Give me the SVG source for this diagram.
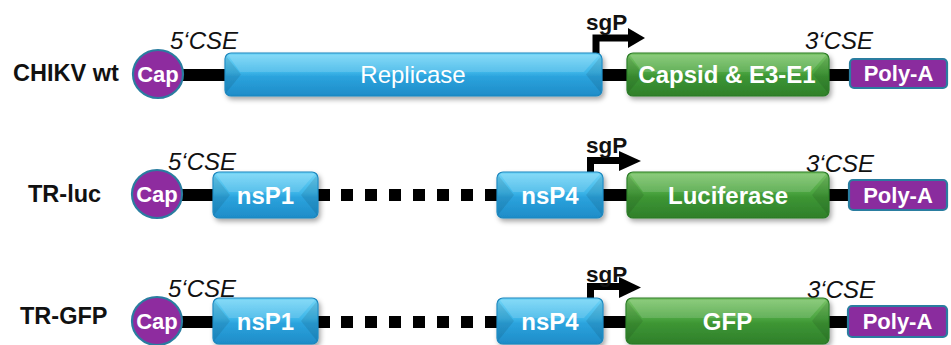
<svg xmlns="http://www.w3.org/2000/svg" width="951" height="345" viewBox="0 0 951 345">
<defs>
<linearGradient id="gBlue" x1="0" y1="0" x2="0" y2="1">
<stop offset="0" stop-color="#74d6f7"/><stop offset="0.45" stop-color="#3cb5e8"/><stop offset="0.55" stop-color="#2ba3dd"/><stop offset="1" stop-color="#1e8cc8"/>
</linearGradient>
<linearGradient id="gGreen" x1="0" y1="0" x2="0" y2="1">
<stop offset="0" stop-color="#7cc56a"/><stop offset="0.45" stop-color="#4aa43f"/><stop offset="0.55" stop-color="#3d9634"/><stop offset="1" stop-color="#2f7f2a"/>
</linearGradient>
<filter id="sh" x="-10%" y="-20%" width="120%" height="160%">
<feDropShadow dx="2" dy="3" stdDeviation="2.5" flood-color="#000" flood-opacity="0.35"/>
</filter>
</defs>
<style>
.lbl{font-family:"Liberation Sans",Arial,sans-serif;font-weight:bold;font-size:23.5px;fill:#111}
.cse{font-family:"Liberation Sans",Arial,sans-serif;font-style:italic;font-size:24px;fill:#111}
.sgp{font-family:"Liberation Sans",Arial,sans-serif;font-weight:bold;font-size:22.5px;fill:#111}
.bt{font-family:"Liberation Sans",Arial,sans-serif;font-weight:bold;font-size:24px;fill:#fff;text-anchor:middle}
.bn{font-family:"Liberation Sans",Arial,sans-serif;font-size:24px;fill:#fff;text-anchor:middle}
.pt{font-family:"Liberation Sans",Arial,sans-serif;font-weight:bold;font-size:22px;fill:#fff;text-anchor:middle}
.blue{fill:url(#gBlue);stroke:#1b86bd;stroke-width:1.2;filter:url(#sh)}
.green{fill:url(#gGreen);stroke:#2a7a26;stroke-width:1.2;filter:url(#sh)}
.cap{fill:#8e2c9f;stroke:#2a7da0;stroke-width:2.2}
.poly{fill:#8a2c9e;stroke:#2a7da0;stroke-width:2.2}
.fd{fill:#000;opacity:0.09}
.fl{fill:#fff;opacity:0.14}
.bb{fill:#000}
</style>

<g id="connectors">
<!-- row 1 -->
<rect class="bb" x="180" y="69" width="50" height="12"/>
<rect class="bb" x="598" y="69" width="34" height="12"/>
<rect class="bb" x="825" y="69" width="28" height="12"/>
<path d="M596,75 V38 H630" fill="none" stroke="#000" stroke-width="7"/>
<polygon points="628,28 645,38 628,48" fill="#000"/>
<!-- row 2 -->
<rect class="bb" x="180" y="189" width="38" height="12"/>
<rect class="bb" x="314" y="189" width="16" height="12"/>
<rect class="bb" x="341" y="189" width="12" height="12"/>
<rect class="bb" x="365" y="189" width="12" height="12"/>
<rect class="bb" x="389" y="189" width="12" height="12"/>
<rect class="bb" x="413" y="189" width="12" height="12"/>
<rect class="bb" x="437" y="189" width="12" height="12"/>
<rect class="bb" x="461" y="189" width="12" height="12"/>
<rect class="bb" x="485" y="189" width="16" height="12"/>
<rect class="bb" x="600" y="189" width="32" height="12"/>
<rect class="bb" x="825" y="189" width="28" height="12"/>
<path d="M590.5,195 V160.5 H622" fill="none" stroke="#000" stroke-width="7"/>
<polygon points="619,151 641,161 619,171" fill="#000"/>
<!-- row 3 -->
<rect class="bb" x="180" y="316" width="38" height="12"/>
<rect class="bb" x="314" y="316" width="16" height="12"/>
<rect class="bb" x="341" y="316" width="12" height="12"/>
<rect class="bb" x="365" y="316" width="12" height="12"/>
<rect class="bb" x="389" y="316" width="12" height="12"/>
<rect class="bb" x="413" y="316" width="12" height="12"/>
<rect class="bb" x="437" y="316" width="12" height="12"/>
<rect class="bb" x="461" y="316" width="12" height="12"/>
<rect class="bb" x="485" y="316" width="16" height="12"/>
<rect class="bb" x="600" y="316" width="32" height="12"/>
<rect class="bb" x="825" y="316" width="28" height="12"/>
<path d="M590.5,322 V286.5 H622" fill="none" stroke="#000" stroke-width="7"/>
<polygon points="619,277 641,287.5 619,298" fill="#000"/>
</g>

<!-- Row 1 -->
<g id="label-chikv"><text class="lbl" x="13" y="81">CHIKV wt</text></g>
<g id="cse5-1"><text class="cse" x="170" y="49">5‘CSE</text></g>
<g id="cse3-1"><text class="cse" x="805" y="49">3‘CSE</text></g>
<g id="sgp-1"><text class="sgp" x="586" y="30">sgP</text></g>
<g id="cap-1"><ellipse class="cap" cx="158" cy="74" rx="25" ry="24"/><text class="pt" x="158" y="82">Cap</text></g>
<g id="replicase">
<rect class="blue" x="225" y="53" width="377" height="43" rx="6"/>
<polygon class="fl" points="228,55 599,55 584,72 240,72"/>
<polygon class="fd" points="226,56 241,74.5 226,93"/>
<polygon class="fd" points="601,56 586,74.5 601,93"/>
<text class="bn" x="413" y="83">Replicase</text>
</g>
<g id="capsid">
<rect class="green" x="627" y="53" width="202" height="43" rx="6"/>
<polygon class="fl" points="630,55 826,55 811,72 642,72"/>
<polygon class="fd" points="628,56 643,74.5 628,93"/>
<polygon class="fd" points="828,56 813,74.5 828,93"/>
<text class="bt" x="727" y="83">Capsid &amp; E3-E1</text>
</g>
<g id="polya-1"><rect class="poly" x="850" y="59" width="97" height="29" rx="4"/><text class="pt" x="898.5" y="81">Poly-A</text></g>

<!-- Row 2 -->
<g id="label-trluc"><text class="lbl" x="28" y="202">TR-luc</text></g>
<g id="cse5-2"><text class="cse" x="168" y="170">5‘CSE</text></g>
<g id="cse3-2"><text class="cse" x="806" y="172">3‘CSE</text></g>
<g id="sgp-2"><text class="sgp" x="586" y="153">sgP</text></g>
<g id="cap-2"><ellipse class="cap" cx="157" cy="194" rx="25" ry="24"/><text class="pt" x="157" y="202">Cap</text></g>
<g id="nsp1-2">
<rect class="blue" x="213" y="172" width="105" height="46" rx="6"/>
<polygon class="fl" points="216,174 315,174 299,192 229,192"/>
<polygon class="fd" points="214,175 230,195 214,215"/>
<polygon class="fd" points="317,175 301,195 317,215"/>
<text class="bt" x="265.5" y="204">nsP1</text>
</g>
<g id="nsp4-2">
<rect class="blue" x="497" y="172" width="106" height="46" rx="6"/>
<polygon class="fl" points="500,174 600,174 584,192 513,192"/>
<polygon class="fd" points="498,175 514,195 498,215"/>
<polygon class="fd" points="602,175 586,195 602,215"/>
<text class="bt" x="550" y="204">nsP4</text>
</g>
<g id="luciferase">
<rect class="green" x="627" y="172" width="202" height="46" rx="6"/>
<polygon class="fl" points="630,174 826,174 810,192 643,192"/>
<polygon class="fd" points="628,175 644,195 628,215"/>
<polygon class="fd" points="828,175 812,195 828,215"/>
<text class="bt" x="728" y="204">Luciferase</text>
</g>
<g id="polya-2"><rect class="poly" x="849" y="180" width="98" height="30" rx="4"/><text class="pt" x="898" y="203">Poly-A</text></g>

<!-- Row 3 -->
<g id="label-trgfp"><text class="lbl" x="20" y="324">TR-GFP</text></g>
<g id="cse5-3"><text class="cse" x="168" y="297">5‘CSE</text></g>
<g id="cse3-3"><text class="cse" x="807" y="298">3‘CSE</text></g>
<g id="sgp-3"><text class="sgp" x="586" y="282">sgP</text></g>
<g id="cap-3"><ellipse class="cap" cx="157" cy="321" rx="25" ry="24"/><text class="pt" x="157" y="329">Cap</text></g>
<g id="nsp1-3">
<rect class="blue" x="213" y="298" width="105" height="46" rx="6"/>
<polygon class="fl" points="216,300 315,300 299,318 229,318"/>
<polygon class="fd" points="214,301 230,321 214,341"/>
<polygon class="fd" points="317,301 301,321 317,341"/>
<text class="bt" x="265.5" y="330">nsP1</text>
</g>
<g id="nsp4-3">
<rect class="blue" x="497" y="298" width="106" height="46" rx="6"/>
<polygon class="fl" points="500,300 600,300 584,318 513,318"/>
<polygon class="fd" points="498,301 514,321 498,341"/>
<polygon class="fd" points="602,301 586,321 602,341"/>
<text class="bt" x="550" y="330">nsP4</text>
</g>
<g id="gfp">
<rect class="green" x="626" y="298" width="203" height="46" rx="6"/>
<polygon class="fl" points="629,300 826,300 810,318 642,318"/>
<polygon class="fd" points="627,301 643,321 627,341"/>
<polygon class="fd" points="828,301 812,321 828,341"/>
<text class="bt" x="727.5" y="330">GFP</text>
</g>
<g id="polya-3"><rect class="poly" x="848" y="306" width="99" height="31" rx="4"/><text class="pt" x="897.5" y="329">Poly-A</text></g>
</svg>
